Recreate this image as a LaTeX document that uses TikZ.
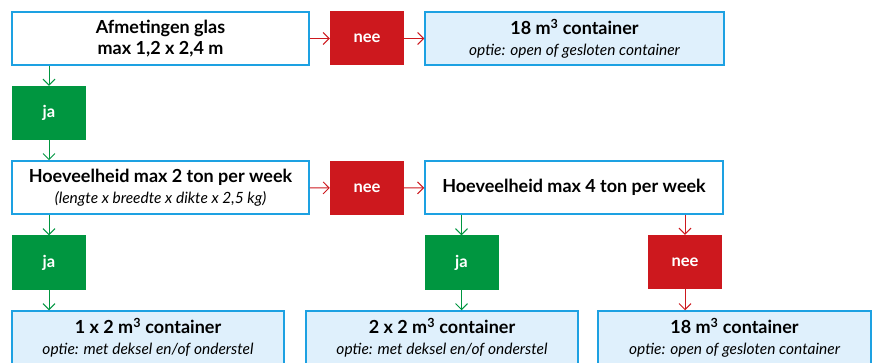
\documentclass[tikz,border=0pt]{standalone}
\usepackage{fontspec}
\setmainfont{Lato}
\usetikzlibrary{arrows.meta}

\definecolor{randblauw}{HTML}{1DA1E2}
\definecolor{lichtblauw}{HTML}{DFF0FC}
\definecolor{neerood}{HTML}{CD181E}
\definecolor{jagroen}{HTML}{009640}

\newcommand{\optie}[1]{{\mdseries\itshape\fontsize{15.5}{21}\selectfont #1}}

\begin{document}
\begin{tikzpicture}[x=1pt,y=-1pt,
  >={Straight Barb[length=6pt,width=12pt]},
  vraag/.style={draw=randblauw,line width=1.5pt,fill=white,minimum height=53pt,
    inner sep=0pt,align=center,font=\bfseries\fontsize{18}{21}\selectfont},
  uitkomst/.style={vraag,fill=lichtblauw},
  neebox/.style={fill=neerood,text=white,font=\bfseries\fontsize{16.5}{16}\selectfont,
    minimum width=74pt,minimum height=54pt,inner sep=0pt},
  jabox/.style={neebox,fill=jagroen},
  jalijn/.style={->,draw=jagroen,line width=1pt},
  neelijn/.style={->,draw=neerood,line width=1pt}]
\useasboundingbox (0,0) rectangle (877,363);

% eerste vraag
\node[vraag,minimum width=297pt] (glas) at (160.5,38.5) {Afmetingen glas\\max 1,2 x 2,4 m};
\node[neebox] (nee1) at (367,38.5) {nee};
\node[uitkomst,minimum width=299pt] (cont18a) at (574.5,38.5)
  {18 m\textsuperscript{3} container\\\optie{optie: open of gesloten container}};
\node[jabox] (ja1) at (49,113) {ja};

% tweede vraag
\node[vraag,minimum width=297pt] (ton2) at (160.5,187.5)
  {Hoeveelheid max 2 ton per week\\\optie{(lengte x breedte x dikte x 2,5 kg)}};
\node[neebox] (nee2) at (367,188) {nee};
\node[vraag,minimum width=298pt] (ton4) at (574,187.5) {Hoeveelheid max 4 ton per week};

\node[jabox] (ja2) at (49,262.5) {ja};
\node[jabox] (ja3) at (461.5,262.5) {ja};
\node[neebox] (nee3) at (685,262) {nee};

% uitkomsten
\node[uitkomst,minimum width=272pt] (cont1x2) at (148,337.5)
  {1 x 2 m\textsuperscript{3} container\\\optie{optie: met deksel en/of onderstel}};
\node[uitkomst,minimum width=272pt] (cont2x2) at (442,337.5)
  {2 x 2 m\textsuperscript{3} container\\\optie{optie: met deksel en/of onderstel}};
\node[uitkomst,minimum width=273pt] (cont18b) at (734.5,337.5)
  {18 m\textsuperscript{3} container\\\optie{optie: open of gesloten container}};

\draw[neelijn] (glas) -- (nee1);
\draw[neelijn] (nee1) -- (cont18a);
\draw[jalijn] (glas.south -| ja1.north) -- (ja1.north);
\draw[jalijn] (ja1.south) -- (ja1.south |- ton2.north);

\draw[neelijn] (ton2) -- (nee2);
\draw[neelijn] (nee2) -- (ton4);
\draw[jalijn] (ton2.south -| ja2.north) -- (ja2.north);
\draw[jalijn] (ja2.south) -- (ja2.south |- cont1x2.north);
\draw[jalijn] (ton4.south -| ja3.north) -- (ja3.north);
\draw[jalijn] (ja3.south) -- (ja3.south |- cont2x2.north);
\draw[neelijn] (ton4.south -| nee3.north) -- (nee3.north);
\draw[neelijn] (nee3.south) -- (nee3.south |- cont18b.north);
\end{tikzpicture}
\end{document}
